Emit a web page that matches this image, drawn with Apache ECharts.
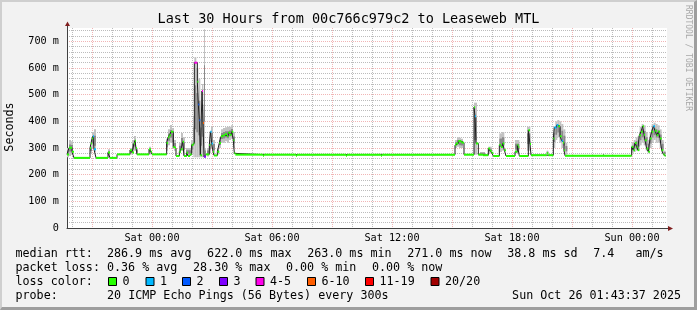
<!DOCTYPE html>
<html><head><meta charset="utf-8">
<script src="https://cdn.jsdelivr.net/npm/echarts@6/dist/echarts.min.js"></script>
<style>
html,body{margin:0;padding:0;background:#f2f2f2;}
body{width:697px;height:310px;overflow:hidden;position:relative;}
#frame{position:absolute;left:0;top:0;width:697px;height:310px;box-sizing:border-box;background:#f2f2f2;border-top:2px solid #cfcfcf;border-left:2px solid #cfcfcf;border-right:3px solid #9e9e9e;border-bottom:3px solid #9e9e9e;}
#chart{position:absolute;left:0;top:0;width:697px;height:310px;}
</style></head>
<body><div id="frame"></div><div id="chart"></div>
<script>
// ---- tick labels ----
const xTickMinutes = [0, 360, 720, 1080, 1440];           // minutes from Sat 00:00
const xTickLabels  = ['Sat 00:00','Sat 06:00','Sat 12:00','Sat 18:00','Sun 00:00'];
const yTickValues  = [0,100,200,300,400,500,600,700];       // ms

// ---- loss legend ----
const lossLabels = ['0','1','2','3','4-5','6-10','11-19','20/20'];
const lossColors = ['#26ff00','#00b8ff','#0059ff','#7e00ff','#ff00ea','#ff5e00','#ff0000','#a10000'];

// ---- statistics text ----
const rttStats  = ['median rtt:  286.9 ms avg','622.0 ms max','263.0 ms min','271.0 ms now','38.8 ms sd','7.4   am/s'];
const lossStats = ['packet loss: 0.36 % avg','28.30 % max','0.00 % min','0.00 % now'];

// ---- median rtt (step start, minutes from Sat 00:00), value in ms, lost pings ----
const stepMinutes = [-255,-249,-243,-240,-234,-186,-183,-180,-177,-174,-168,-132,-126,-105,-66,-60,-54,-51,-48,-45,-9,-3,0,
  44,48,52,57,64,69,72,82,87,92,96,104,108,114,119,124,127,136,139,142,145,150,153,156,162,
  172,175,179,183,186,196,202,207,213,219,225,229,234,239,244,247,250,
  333,336,432,435,582,585,687,690,
  909,912,919,927,932,936,966,969,972,979,993,1009,1014,1019,1024,1042,1047,1052,1057,1062,1089,1096,1099,1102,
  1129,1134,1137,1184,1189,1204,1207,1214,1219,1224,1229,1233,1236,1239,
  1439,1444,1449,1454,1457,1462,1467,1472,1476,1479,1484,1489,1494,1499,1504,1509,1514,1519,1524,1529,1534,1538,1541];
const medianMs = [276,301,301,286,263,300,317,336,344,295,263,283,263,276,292,283,317,327,300,276,295,286,276,
  319,340,348,361,304,300,270,286,295,323,270,282,270,276,311,317,620,548,463,404,273,514,394,267,276,
  311,361,317,286,272,286,319,344,348,352,345,357,350,361,329,280,275,
  271,275,271,275,271,275,271,275,
  311,317,326,322,320,275,453,419,317,275,273,298,290,282,270,311,304,317,292,270,286,311,304,270,
  367,315,273,280,273,336,377,386,382,344,327,320,292,271,
  304,292,319,304,292,348,361,382,350,329,298,286,336,361,382,365,348,361,336,292,276,271,271];
const lossPings = [0,0,0,0,0,0,0,0,1,1,0,0,0,0,0,0,0,0,0,0,0,0,0,
  0,0,0,0,0,0,0,0,0,0,0,0,0,0,0,0,4,0,2,2,0,4,6,3,0,
  0,1,1,0,0,0,0,0,0,0,0,0,0,0,0,0,0,
  0,0,0,0,0,0,0,0,
  0,0,0,0,0,0,0,1,0,0,0,0,0,0,0,0,0,0,0,0,0,0,0,0,
  0,0,0,0,0,0,1,1,0,0,1,0,0,0,
  0,0,0,0,0,0,0,0,0,0,0,0,0,0,1,0,0,0,0,0,0,0,0];

// ---- smoke (ping spread), minutes, low / high ms ----
const smokeMinutes = [-255,-249,-243,-237,-186,-180,-174,-168,-132,-126,-66,-60,-54,-48,-42,-9,-3,
  42,48,54,60,66,72,81,87,93,99,102,111,117,124,127,133,139,145,150,154,156,158,162,165,171,177,183,189,
  195,201,207,213,219,225,231,237,243,249,
  909,915,921,927,933,966,975,984,999,1009,1019,1042,1050,1057,1089,1102,1125,1135,1184,1189,
  1204,1210,1216,1222,1228,1234,1240,1246,1353,1356,
  1439,1445,1451,1457,1463,1469,1475,1481,1487,1493,1499,1505,1511,1517,1523,1529,1535,1541];
const smokeLoMs = [265,270,275,263,280,300,285,263,270,263,276,280,290,276,276,276,276,
  290,310,320,300,290,270,280,290,275,270,270,270,280,265,265,265,265,265,265,265,265,265,270,268,280,300,276,272,
  276,300,320,320,325,320,330,335,300,275,
  300,305,300,300,275,275,275,275,273,280,273,285,290,270,280,270,290,273,275,273,
  300,330,340,320,300,285,275,271,271,271,
  280,285,290,290,310,320,310,290,280,300,320,330,320,320,300,280,272,271];
const smokeHiMs = [300,330,325,263,310,360,370,263,295,263,300,330,345,300,276,305,276,
  335,370,386,375,330,270,320,356,340,270,300,300,330,420,640,600,560,420,540,440,745,300,270,300,330,380,330,272,
  300,340,370,375,378,380,380,385,360,275,
  330,340,338,335,275,470,275,285,273,305,273,355,360,270,330,270,380,273,290,273,
  380,400,405,400,390,370,320,271,280,271,
  320,330,340,345,380,390,385,360,330,360,390,395,390,385,370,330,290,271];

const X_MIN = -255, X_MAX = 1545, Y_MAX = 750;
const MONO = '"DejaVu Sans Mono", monospace';
const LEG_SIZE = 11.7, CHAR_W = LEG_SIZE * 0.6021, GAP = 15.5;

function lossClass(n){ if(n<=3) return n; if(n<=5) return 4; if(n<=10) return 5; if(n<=19) return 6; return 7; }

const minorX = [], majorX = [];
for (let m = -240; m <= X_MAX; m += 60) { (Math.abs(m % 180) === 0 ? majorX : minorX).push(m); }
const minorY = [];
for (let v = 20; v < Y_MAX; v += 20) { if (v % 100 !== 0) minorY.push(v); }

const gridMinor = {color:'rgba(143,143,143,0.6)', width:1, type:[1,1]};
const gridMajor = {color:'rgba(222,79,79,0.42)', width:1, type:[1,1]};

const chart = echarts.init(document.getElementById('chart'), null, {renderer:'canvas'});

const smokeData = smokeMinutes.slice(0,-1).map((t,i)=>[t, smokeMinutes[i+1], smokeLoMs[i], smokeHiMs[i]]);
const segData = stepMinutes.slice(0,-1).map((t,i)=>[t, stepMinutes[i+1], medianMs[i], lossPings[i]]);
const lineData = stepMinutes.map((t,i)=>[t, medianMs[i]]);

chart.setOption({
  animation:false,
  backgroundColor:'transparent',
  grid:{left:67, top:28, width:600, height:200, show:true, backgroundColor:'#ffffff', borderWidth:0},
  xAxis:[
    {type:'value', min:X_MIN, max:X_MAX, position:'bottom',
      axisLine:{show:true, onZero:false, lineStyle:{color:'#404040', width:1}},
      axisTick:{show:false, customValues:minorX},
      axisLabel:{show:false},
      splitLine:{show:true, lineStyle:gridMinor}},
    {type:'value', min:X_MIN, max:X_MAX, position:'bottom',
      axisLine:{show:false, onZero:false},
      axisTick:{show:false, customValues:majorX},
      axisLabel:{show:true, customValues:xTickMinutes, margin:5,
        formatter:v=>xTickLabels[xTickMinutes.indexOf(v)],
        fontFamily:MONO, fontSize:10.2, color:'#000'},
      splitLine:{show:true, lineStyle:gridMajor}}
  ],
  yAxis:[
    {type:'value', min:0, max:Y_MAX, position:'left', offset:0,
      axisLine:{show:true, onZero:false, lineStyle:{color:'#404040', width:1}},
      axisTick:{show:false, customValues:minorY},
      axisLabel:{show:false},
      splitLine:{show:true, lineStyle:gridMinor}},
    {type:'value', min:0, max:Y_MAX, position:'left', offset:0,
      axisLine:{show:false, onZero:false},
      axisTick:{show:false, customValues:yTickValues},
      axisLabel:{show:true, customValues:yTickValues, margin:8,
        formatter:v=> v===0 ? '0' : v + ' m',
        fontFamily:MONO, fontSize:10.2, color:'#000'},
      splitLine:{show:true, lineStyle:gridMajor}}
  ],
  series:[
    {type:'custom', name:'smoke', xAxisIndex:0, yAxisIndex:0, silent:true, z:2,
      data:smokeData, encode:{x:[0,1], y:[2,3]},
      renderItem:function(params, api){
        const t0=api.value(0), t1=api.value(1), lo=api.value(2), hi=api.value(3);
        if (!(hi>lo)) return null;
        const a=api.coord([t0,hi]), b=api.coord([t1,lo]);
        const q=(hi-lo)*0.28;
        const c=api.coord([t0,hi-q]), d=api.coord([t1,lo+q]);
        const w=Math.max(1,b[0]-a[0]);
        return {type:'group', children:[
          {type:'rect', shape:{x:a[0], y:a[1], width:w, height:b[1]-a[1]}, style:{fill:'#c2c2c2'}},
          {type:'rect', shape:{x:c[0], y:c[1], width:w, height:d[1]-c[1]}, style:{fill:'#8a8a8a'}}
        ]};
      }},
    {type:'line', name:'median', xAxisIndex:0, yAxisIndex:0, data:lineData, step:'end',
      showSymbol:false, symbol:'none', silent:true, z:3,
      lineStyle:{color:'#202020', width:1}},
    {type:'custom', name:'loss', xAxisIndex:0, yAxisIndex:0, silent:true, z:4,
      data:segData, encode:{x:[0,1], y:2},
      renderItem:function(params, api){
        const t0=api.value(0), t1=api.value(1), v=api.value(2), n=api.value(3);
        const a=api.coord([t0,v]), b=api.coord([t1,v]);
        return {type:'line', shape:{x1:a[0], y1:a[1], x2:Math.max(b[0], a[0]+1), y2:b[1]},
          style:{stroke:lossColors[lossClass(n)], lineWidth:2, lineCap:'butt'}};
      }}
  ],
  graphic:[]
});

// decorations: axis arrows, titles, legend
const o = chart.convertToPixel({xAxisIndex:0, yAxisIndex:0}, [X_MIN, 0]);
const e = chart.convertToPixel({xAxisIndex:0, yAxisIndex:0}, [X_MAX, Y_MAX]);
const g = [];
g.push({type:'line', shape:{x1:o[0]+0.5, y1:e[1], x2:o[0]+0.5, y2:e[1]-3}, style:{stroke:'#404040', lineWidth:1}});
g.push({type:'polygon', shape:{points:[[o[0]-2,e[1]-2],[o[0]+3,e[1]-2],[o[0]+0.5,e[1]-6.5]]}, style:{fill:'#801f1f'}});
g.push({type:'line', shape:{x1:e[0], y1:o[1]+0.5, x2:e[0]+2, y2:o[1]+0.5}, style:{stroke:'#404040', lineWidth:1}});
g.push({type:'polygon', shape:{points:[[e[0]+1,o[1]-2],[e[0]+1,o[1]+3],[e[0]+6,o[1]+0.5]]}, style:{fill:'#801f1f'}});

function txt(s, x, y, opts){
  return Object.assign({type:'text', x:x, y:y, silent:true,
    style:{text:s, font:(opts&&opts.size||LEG_SIZE)+'px '+MONO, fill:(opts&&opts.fill)||'#000',
      textAlign:(opts&&opts.align)||'left', textVerticalAlign:'middle'}}, opts&&opts.extra||{});
}
g.push(txt('Last 30 Hours from 00c766c979c2 to Leaseweb MTL', 348.5, 19, {size:13.5, align:'center'}));
g.push(txt('Seconds', 10, 127, {align:'center', extra:{rotation:Math.PI/2}}));
g.push(txt('RRDTOOL / TOBI OETIKER', 688.5, 58, {size:8, align:'center', fill:'#a8a8a8', extra:{rotation:-Math.PI/2}}));

// legend rows: items laid out left to right with a fixed gap
function row(items, y){
  let x = 15.5;
  items.forEach(s=>{ g.push(txt(s, x, y)); x += s.length*CHAR_W + GAP; });
}
row(rttStats, 254);
row(lossStats, 268);
g.push(txt('loss color:', 15.5, 282));
g.push(txt('probe:', 15.5, 296));
g.push(txt('20 ICMP Echo Pings (56 Bytes) every 300s', 15.5 + 13*CHAR_W, 296));
g.push(txt('Sun Oct 26 01:43:37 2025', 681, 296, {align:'right'}));

const boxX = [108, 145.5, 182, 219, 255.5, 307, 365, 430.5];
lossLabels.forEach((lab,i)=>{
  g.push({type:'rect', shape:{x:boxX[i]+0.5, y:277.5, width:8, height:8}, style:{fill:lossColors[i], stroke:'#000', lineWidth:1}});
  g.push(txt(lab, boxX[i]+14.5, 282));
});
chart.setOption({graphic:g});
</script>
</body></html>
